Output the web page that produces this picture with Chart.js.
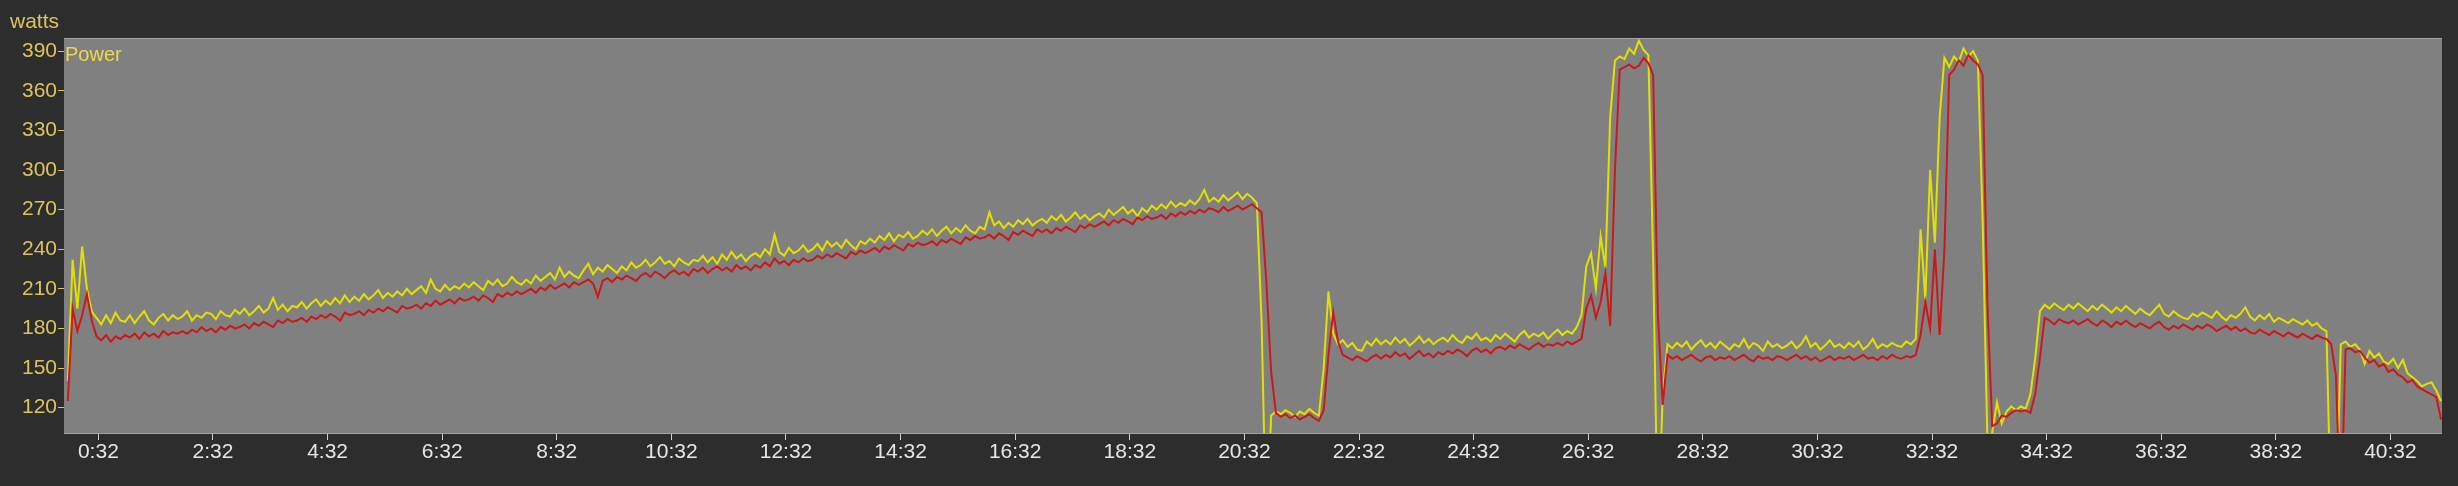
<!DOCTYPE html>
<html>
<head>
<meta charset="utf-8">
<script src="https://cdn.jsdelivr.net/npm/chart.js@4.4.1/dist/chart.umd.min.js"></script>
<style>
  html, body { margin: 0; padding: 0; background: #2d2d2d; }
  canvas { display: block; }
</style>
</head>
<body>
<canvas id="canvas" width="2458" height="486"></canvas>
<script>
// one sample every 5 s, from 0:00 to 41:25
var SAMPLE_SEC = 5;

// yellow trace (Power), one row = one minute
var power = [
  140, 232, 195, 242, 210, 193, 188, 183, 190, 184, 192, 186,
  185, 190, 184, 189, 193, 186, 183, 188, 191, 186, 190, 187,
  189, 193, 186, 190, 188, 192, 191, 187, 193, 190, 189, 194,
  191, 195, 190, 193, 197, 192, 195, 203, 194, 198, 193, 197,
  196, 200, 195, 199, 202, 197, 201, 198, 203, 199, 205, 200,
  204, 201, 206, 202, 205, 209, 203, 207, 204, 208, 205, 210,
  206, 209, 212, 207, 217, 210, 208, 213, 209, 212, 210, 214,
  211, 215, 212, 209, 216, 213, 217, 212, 214, 219, 215, 213,
  217, 214, 220, 216, 219, 222, 217, 226, 219, 223, 220, 218,
  224, 229, 221, 226, 223, 228, 225, 222, 227, 224, 230, 226,
  228, 232, 227, 230, 234, 229, 231, 227, 233, 230, 228, 232,
  231, 235, 230, 234, 229, 236, 232, 238, 233, 236, 231, 235,
  237, 234, 240, 236, 251, 238, 235, 241, 237, 239, 243, 238,
  240, 244, 239, 246, 242, 245, 241, 247, 243, 240, 246, 244,
  248, 245, 250, 247, 252, 246, 251, 249, 253, 248, 250, 254,
  251, 255, 250, 254, 257, 252, 256, 253, 258, 254, 252, 257,
  255, 268, 258, 261, 256, 260, 257, 262, 259, 263, 258, 261,
  263, 260, 265, 262, 266, 261, 264, 268, 263, 266, 262, 265,
  267, 264, 270, 266, 269, 272, 267, 270, 265, 271, 268, 273,
  270, 274, 271, 276, 272, 275, 273, 277, 274, 278, 285, 276,
  279, 276, 281, 277, 280, 283, 278, 282, 279, 275, 185, 20,
  114, 117, 115, 118, 116, 113, 117, 115, 119, 116, 114, 150,
  208, 176, 168, 171, 166, 169, 164, 163, 170, 167, 172, 168,
  171, 168, 173, 169, 172, 167, 170, 174, 169, 172, 168, 171,
  173, 170, 175, 171, 169, 174, 172, 176, 171, 173, 170, 175,
  172, 176, 173, 170, 175, 178, 173, 176, 174, 177, 172, 176,
  179, 175, 178, 176, 181, 190, 227, 237, 210, 250, 226, 340,
  383, 386, 384, 392, 388, 398, 391, 387, 232, 20, 130, 168,
  165, 169, 166, 170, 164, 168, 171, 166, 169, 165, 170, 167,
  164, 168, 166, 172, 165, 169, 167, 163, 170, 166, 168, 165,
  167, 170, 165, 168, 174, 166, 169, 164, 167, 171, 166, 168,
  165, 169, 166, 170, 164, 167, 172, 165, 168, 166, 169, 167,
  166, 170, 168, 172, 255, 202, 300, 245, 340, 385, 378, 386,
  382, 392, 386, 390, 383, 262, 95, 101, 124, 108, 117, 121,
  118, 121, 119, 130, 157, 193, 198, 195, 199, 196, 194, 198,
  195, 199, 196, 193, 197, 194, 198, 195, 192, 196, 193, 197,
  194, 191, 195, 192, 190, 194, 198, 191, 189, 193, 190, 188,
  187, 191, 189, 192, 190, 188, 193, 189, 186, 190, 188, 191,
  196, 189, 186, 190, 187, 191, 185, 188, 186, 184, 187, 185,
  183, 186, 182, 184, 180, 178, 30, 30, 168, 170, 166, 168,
  164, 153, 163, 158, 161, 155, 153, 157, 150, 156, 146, 143,
  140, 136, 138, 139, 133, 125
];

// red trace
var powerRed = [
  125, 195, 178, 190, 206, 186, 174, 171, 175, 170, 174, 172,
  175, 173, 176, 172, 177, 174, 176, 173, 178, 175, 177, 176,
  178, 176, 179, 177, 181, 178, 180, 177, 181, 179, 182, 180,
  181, 183, 180, 184, 182, 185, 183, 181, 186, 184, 187, 185,
  186, 188, 185, 189, 187, 190, 188, 191, 189, 186, 192, 190,
  191, 193, 190, 194, 192, 195, 193, 196, 194, 192, 197, 195,
  196, 198, 195, 199, 197, 201, 198, 200, 202, 199, 203, 201,
  202, 204, 201, 205, 203, 200, 206, 204, 207, 205, 208, 206,
  208, 210, 207, 211, 209, 213, 210, 212, 214, 211, 215, 213,
  215, 217, 214, 204, 216, 218, 215, 219, 217, 220, 218, 216,
  220, 222, 219, 223, 221, 218, 222, 224, 221, 223, 220, 225,
  223, 226, 222, 225, 227, 224, 226, 223, 228, 225, 227, 224,
  228, 226, 230, 227, 233, 229, 231, 228, 232, 230, 233, 231,
  232, 235, 233, 236, 234, 237, 235, 233, 238, 236, 239, 237,
  239, 241, 238, 242, 240, 243, 241, 239, 244, 242, 245, 243,
  244, 246, 243, 247, 245, 248, 246, 244, 249, 247, 250, 248,
  249, 251, 248, 252, 250, 247, 253, 251, 254, 252, 250, 255,
  253, 255, 252, 256, 254, 257, 255, 253, 258, 256, 259, 257,
  259, 261, 258, 262, 260, 263, 261, 259, 264, 262, 265, 263,
  264, 266, 263, 267, 265, 268, 266, 269, 267, 270, 268, 271,
  270, 268, 272, 269, 271, 273, 270, 272, 274, 271, 268, 215,
  147, 116, 113, 115, 112, 114, 111, 113, 115, 112, 110, 118,
  160, 192, 170, 160, 158, 156, 159, 157, 155, 158, 160, 157,
  160, 158, 162, 159, 161, 157, 160, 163, 159, 161, 158, 162,
  160, 163, 161, 164, 162, 159, 163, 165, 162, 164, 161, 165,
  166, 164, 167, 165, 168, 166, 164, 167, 169, 166, 168, 167,
  169, 167, 170, 168, 170, 172, 195, 205, 188, 200, 222, 182,
  300, 376, 378, 380, 377, 379, 385, 381, 372, 190, 122, 160,
  157, 159, 156, 158, 160, 157, 155, 158, 159, 156, 158, 157,
  159, 156, 158, 160, 157, 155, 159, 157, 158, 156, 159, 158,
  156, 158, 160, 157, 159, 156, 158, 155, 157, 159, 156, 158,
  157, 159, 156, 158, 160, 157, 158, 156, 159, 157, 160, 158,
  157, 159, 158, 160, 175, 200, 180, 240, 175, 240, 372, 376,
  383, 379, 387, 383, 380, 372, 200, 106, 108, 114, 113, 116,
  118, 117, 118, 116, 130, 158, 188, 186, 183, 187, 185, 184,
  186, 183, 185, 187, 184, 182, 186, 184, 181, 185, 183, 186,
  183, 181, 184, 182, 180, 183, 185, 181, 179, 182, 180, 183,
  181, 179, 182, 180, 183, 181, 178, 180, 182, 179, 181, 178,
  180, 177, 176, 179, 177, 175, 178, 176, 174, 177, 175, 173,
  176, 174, 172, 175, 173, 172, 168, 144, 30, 164, 165, 162,
  163, 158, 154, 156, 151, 153, 147, 149, 145, 143, 139, 141,
  136, 134, 132, 130, 128, 111
];

// axis ticks
var yTicks = [120, 150, 180, 210, 240, 270, 300, 330, 360, 390];
var xTicksSec = [32, 152, 272, 392, 512, 632, 752, 872, 992, 1112, 1232,
  1352, 1472, 1592, 1712, 1832, 1952, 2072, 2192, 2312, 2432];

var FONT = 'Liberation Sans, Arial, sans-serif';

function minSec(s) {
  var m = Math.floor(s / 60);
  var r = s % 60;
  return m + ':' + (r < 10 ? '0' + r : r);
}

function points(values) {
  var out = [];
  for (var i = 0; i < values.length; i++) {
    out.push({x: i * SAMPLE_SEC, y: values[i]});
  }
  return out;
}

// background, plot frame and the two captions
var decor = {
  id: 'decor',
  beforeDraw: function(chart) {
    var ctx = chart.ctx, a = chart.chartArea;
    ctx.save();
    ctx.fillStyle = '#2d2d2d';
    ctx.fillRect(0, 0, chart.width, chart.height);
    ctx.fillStyle = '#808080';
    ctx.fillRect(a.left, a.top, a.right - a.left, a.bottom - a.top);
    ctx.restore();
  },
  afterDraw: function(chart) {
    var ctx = chart.ctx, a = chart.chartArea;
    ctx.save();
    ctx.strokeStyle = '#a4a4a4';
    ctx.lineWidth = 1;
    ctx.beginPath();
    ctx.moveTo(a.left, a.top + 0.5); ctx.lineTo(a.right, a.top + 0.5);
    ctx.moveTo(a.left, a.bottom - 0.5); ctx.lineTo(a.right, a.bottom - 0.5);
    ctx.stroke();
    ctx.textBaseline = 'alphabetic';
    ctx.textAlign = 'left';
    ctx.font = '21px ' + FONT;
    ctx.fillStyle = '#dcc45a';
    ctx.fillText('watts', 10, 28);
    ctx.font = '20px ' + FONT;
    ctx.fillStyle = '#ecd84a';
    ctx.fillText('Power', a.left + 1, 61);
    ctx.restore();
  }
};

var config = {
  type: 'line',
  data: {
    datasets: [{
      label: 'Power (red)',
      data: points(powerRed),
      borderColor: '#cc1818',
      borderWidth: 2,
      pointRadius: 0,
      tension: 0,
      clip: 0
    }, {
      label: 'Power',
      data: points(power),
      borderColor: '#e2e000',
      borderWidth: 2,
      pointRadius: 0,
      tension: 0,
      clip: 0
    }]
  },
  options: {
    responsive: false,
    animation: false,
    devicePixelRatio: 1,
    layout: { padding: { left: 0, top: 38, right: 16, bottom: 0 } },
    plugins: {
      legend: { display: false },
      tooltip: { enabled: false }
    },
    scales: {
      x: {
        type: 'linear',
        min: -4,
        max: 2486,
        border: { display: false },
        grid: { drawOnChartArea: false, tickLength: 6, tickColor: '#d0d0d0', tickWidth: 1 },
        ticks: {
          autoSkip: false,
          maxRotation: 0,
          padding: 0,
          color: '#e6e6e6',
          font: { family: FONT, size: 21 },
          callback: function(v) { return minSec(v); }
        },
        afterBuildTicks: function(scale) {
          scale.ticks = xTicksSec.map(function(v) { return {value: v}; });
        },
        afterFit: function(scale) { scale.height = 52; }
      },
      y: {
        type: 'linear',
        min: 100,
        max: 400,
        border: { display: false },
        grid: { drawOnChartArea: false, tickLength: 6, tickColor: '#dcc45a', tickWidth: 1 },
        ticks: {
          padding: 1,
          color: '#dcc45a',
          font: { family: FONT, size: 21 }
        },
        afterBuildTicks: function(scale) {
          scale.ticks = yTicks.map(function(v) { return {value: v}; });
        },
        afterFit: function(scale) { scale.width = 64; }
      }
    }
  },
  plugins: [decor]
};

window.onload = function() {
  window.powerChart = new Chart(document.getElementById('canvas'), config);
};
</script>
</body>
</html>
